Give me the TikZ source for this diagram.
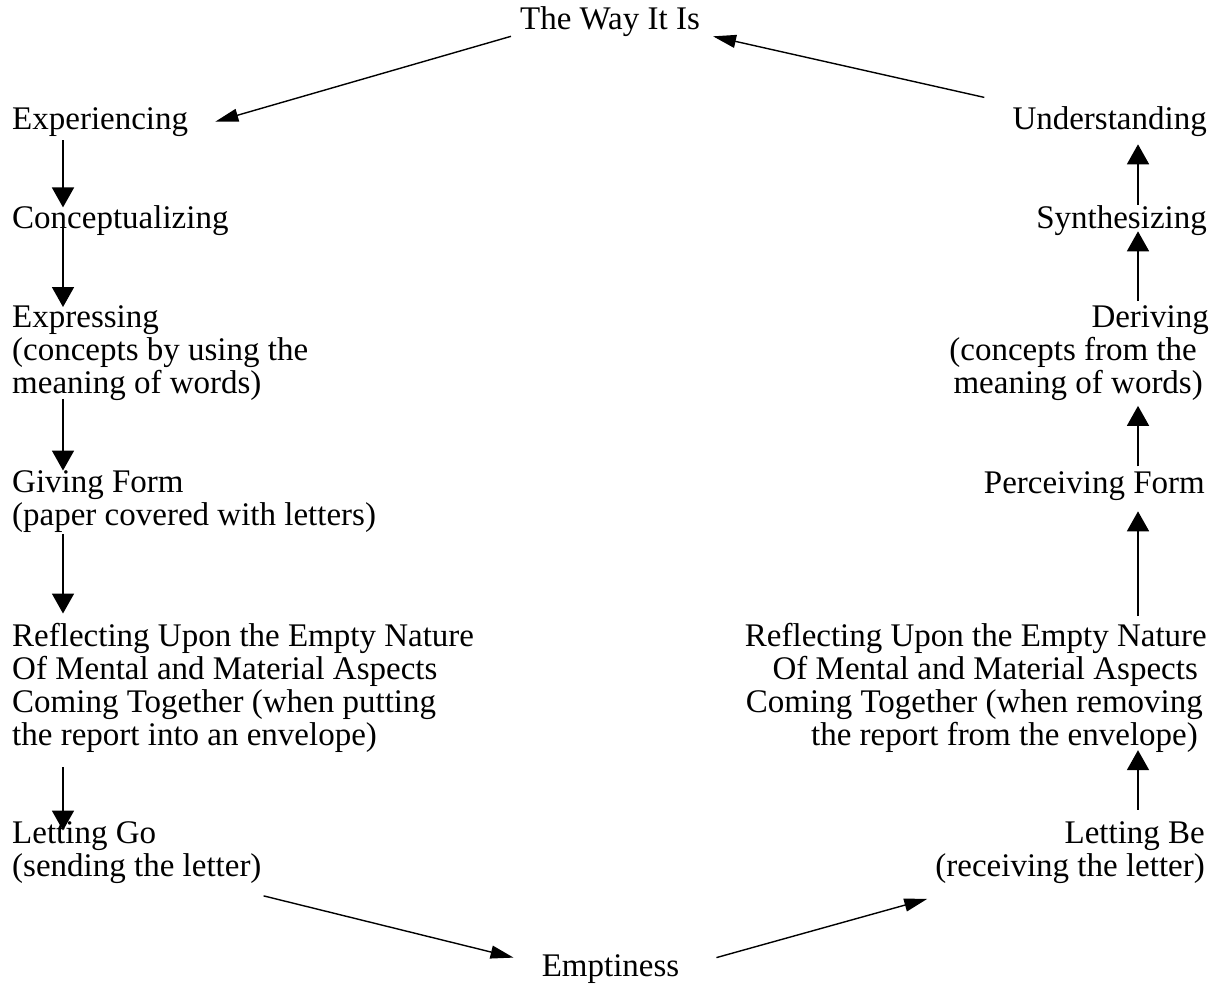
\documentclass[tikz,border=0pt]{standalone}
\usepackage{fontspec}
\setmainfont{Liberation Serif}
\usetikzlibrary{arrows.meta}
\begin{document}
\begin{tikzpicture}[x=1pt,y=-1pt,
    txt/.style={inner sep=0pt,font=\fontsize{33}{33}\selectfont},
    vArr/.style={line width=1.8pt,-{Triangle[width=22pt,length=20pt]}},
    dArr/.style={line width=1.4pt,-{Triangle[width=13pt,length=23pt]}}]
    \useasboundingbox (0,0) rectangle (1223,983);
    % top and bottom
    \node [txt,anchor=base] (way) at (610,29) {The Way It Is};
    \node [txt,anchor=base] (empty) at (610.5,976) {Emptiness};
    % left column
    \node [txt,anchor=base west] (exper) at (12,129) {Experiencing};
    \node [txt,anchor=base west] (concept) at (12,228) {Conceptualizing};
    \node [txt,anchor=north west,align=left] (express) at (12,305.5)
        {Expressing\\(concepts by using the\\meaning of words)};
    \node [txt,anchor=north west,align=left] (giving) at (12,470.5)
        {Giving Form\\(paper covered with letters)};
    \node [txt,anchor=north west,align=left] (reflL) at (12,623.5)
        {Reflecting Upon the Empty Nature\\Of Mental and Material Aspects\\Coming Together (when putting\\the report into an envelope)};
    \node [txt,anchor=north west,align=left] (lettgo) at (12,821.5)
        {Letting Go\\(sending the letter)};
    % right column
    \node [txt,anchor=base east] (underst) at (1207,129) {Understanding};
    \node [txt,anchor=base east] (synth) at (1207,228) {Synthesizing};
    \node [txt,anchor=north east,align=right] (deriv) at (1209,305.5)
        {Deriving\\(concepts from the\rule{12pt}{0pt}\\meaning of words)\rule{6pt}{0pt}};
    \node [txt,anchor=base east] (perceiv) at (1205,493) {Perceiving Form};
    \node [txt,anchor=north east,align=right] (reflR) at (1207,623.5)
        {Reflecting Upon the Empty Nature\\Of Mental and Material Aspects\rule{9pt}{0pt}\\Coming Together (when removing\rule{4pt}{0pt}\\the report from the envelope)\rule{9pt}{0pt}};
    \node [txt,anchor=north east,align=right] (lettbe) at (1205,821.5)
        {Letting Be\\(receiving the letter)};
    % down the left
    \draw [vArr] ([xshift=51pt,yshift=-4pt]exper.south west) -- ([xshift=51pt,yshift=-2.5pt]concept.north west);
    \draw [vArr] ([xshift=51pt]concept.base west) -- ([xshift=51pt,yshift=-1.5pt]express.north west);
    \draw [vArr] ([xshift=51pt,yshift=2pt]express.south west) -- ([xshift=51pt]giving.north west);
    \draw [vArr] ([xshift=51pt,yshift=-1pt]giving.south west) -- ([xshift=51pt,yshift=10pt]reflL.north west);
    \draw [vArr] ([xshift=51pt,yshift=-14pt]reflL.south west) -- ([xshift=51pt,yshift=-9pt]lettgo.north west);
    % up the right
    \draw [vArr] ([xshift=-67pt,yshift=12pt]lettbe.north east) -- ([xshift=-69pt,yshift=3pt]reflR.south east);
    \draw [vArr] ([xshift=-69pt,yshift=7.5pt]reflR.north east) -- ([xshift=-67pt,yshift=-11pt]perceiv.south east);
    \draw [vArr] ([xshift=-67pt,yshift=4.5pt]perceiv.north east) -- ([xshift=-71pt,yshift=-5pt]deriv.south east);
    \draw [vArr] ([xshift=-71pt,yshift=4.5pt]deriv.north east) -- ([xshift=-69pt,yshift=4pt]synth.south east);
    \draw [vArr] ([xshift=-69pt]synth.north east) -- ([xshift=-69pt,yshift=-8pt]underst.south east);
    % diagonals
    \draw [dArr] ([xshift=-9pt]way.south west) -- ([xshift=27pt]exper.east);
    \draw [dArr] ([xshift=-28pt,yshift=8.5pt]underst.north west) -- ([xshift=13pt]way.south east);
    \draw [dArr] ([xshift=2pt,yshift=-12pt]lettgo.south east) -- ([xshift=-28pt,yshift=11pt]empty.west);
    \draw [dArr] ([xshift=37pt,yshift=11pt]empty.east) -- ([xshift=-8pt,yshift=-15pt]lettbe.south west);
\end{tikzpicture}
\end{document}
